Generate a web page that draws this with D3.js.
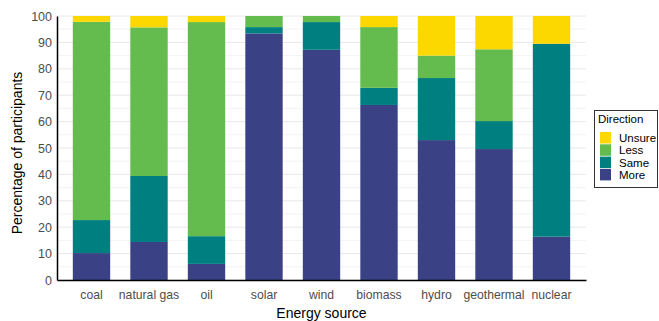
<!DOCTYPE html>
<html><head><meta charset="utf-8">
<script src="https://cdn.jsdelivr.net/npm/d3@7"></script>
<style>body{margin:0;background:#fff;} svg{display:block;font-family:"Liberation Sans",Arial,sans-serif;}</style>
</head><body>
<svg id="chart" width="659" height="321"></svg>
<script>
const categories = ["coal","natural gas","oil","solar","wind","biomass","hydro","geothermal","nuclear"];
const directions = ["More","Same","Less","Unsure"];
const more   = [10.2, 14.4, 6.1, 93.4, 87.2, 66.3, 53.0, 49.6, 16.4];
const same   = [12.5, 25.0, 10.5, 2.4, 10.5, 6.5, 23.5, 10.6, 73.1];
const less   = [75.1, 56.3, 81.1, 4.2, 2.3, 23.0, 8.5, 27.2, 0.0];
const unsure = [2.2, 4.3, 2.3, 0.0, 0.0, 4.2, 15.0, 12.6, 10.5];
const yTicks = [0,10,20,30,40,50,60,70,80,90,100];
const colors = {Unsure:"#FDD800", Less:"#63BC4D", Same:"#007F80", More:"#3A4285"};

const rows = categories.map((c,i)=>({cat:c, More:more[i], Same:same[i], Less:less[i], Unsure:unsure[i]}));
const series = d3.stack().keys(directions)(rows);

const svg = d3.select("#chart");
const m = {left:57, right:586, top:16, bottom:280};
const x = d3.scaleBand().domain(categories).range([m.left, m.right]).paddingInner(0.35).paddingOuter(0.275);
const y = d3.scaleLinear().domain([0,100]).range([m.bottom, m.top]);

// grid
const minor = d3.range(5,100,10);
svg.append("g").selectAll("line").data(minor).join("line")
  .attr("x1", m.left).attr("x2", m.right).attr("y1", d=>y(d)).attr("y2", d=>y(d))
  .attr("stroke","#F3F3F3").attr("stroke-width",1);
svg.append("g").selectAll("line").data(yTicks).join("line")
  .attr("x1", m.left).attr("x2", m.right).attr("y1", d=>y(d)).attr("y2", d=>y(d))
  .attr("stroke","#E8E8E8").attr("stroke-width",1);

// bars
svg.append("g").selectAll("g").data(series).join("g")
  .attr("fill", s=>colors[s.key])
  .selectAll("rect").data(s=>s).join("rect")
  .attr("x", d=>x(d.data.cat)).attr("width", x.bandwidth())
  .attr("y", d=>y(d[1])).attr("height", d=>y(d[0])-y(d[1]));

// axes
const yAxis = svg.append("g").attr("transform",`translate(${m.left},0)`)
  .call(d3.axisLeft(y).tickValues(yTicks).tickSize(0).tickPadding(5));
yAxis.select(".domain").attr("stroke","#000").attr("stroke-width",1.5);
yAxis.selectAll("text").attr("font-size",12.5).attr("fill","#4D4D4D").attr("font-family","Liberation Sans, Arial, sans-serif");

const xAxis = svg.append("g").attr("transform",`translate(0,${m.bottom})`)
  .call(d3.axisBottom(x).tickSize(0).tickPadding(10));
xAxis.select(".domain").attr("stroke","#000").attr("stroke-width",1.5);
xAxis.selectAll("text").attr("font-size",12.2).attr("fill","#4D4D4D").attr("font-family","Liberation Sans, Arial, sans-serif");

// axis titles
svg.append("text").attr("x", (m.left+m.right)/2).attr("y", 318).attr("text-anchor","middle")
  .attr("font-size",14).attr("fill","#000").text("Energy source");
svg.append("text").attr("transform",`translate(22,${(m.top+m.bottom)/2+5}) rotate(-90)`)
  .attr("text-anchor","middle").attr("font-size",14).attr("fill","#000").text("Percentage of participants");

// legend
const lg = svg.append("g").attr("transform","translate(594,110)");
lg.append("rect").attr("x",0.5).attr("y",0.5).attr("width",63).attr("height",77)
  .attr("fill","#fff").attr("stroke","#333").attr("stroke-width",1);
lg.append("text").attr("x",4).attr("y",13).attr("font-size",11.5).attr("fill","#000").text("Direction");
const legendKeys = directions.slice().reverse();
const li = lg.selectAll("g.k").data(legendKeys).join("g").attr("class","k")
  .attr("transform",(d,i)=>`translate(6,${22+i*12.3})`);
li.append("rect").attr("width",11).attr("height",11.5).attr("fill",d=>colors[d]);
li.append("text").attr("x",19).attr("y",10).attr("font-size",11.5).attr("fill","#000").text(d=>d);
</script>
</body></html>
